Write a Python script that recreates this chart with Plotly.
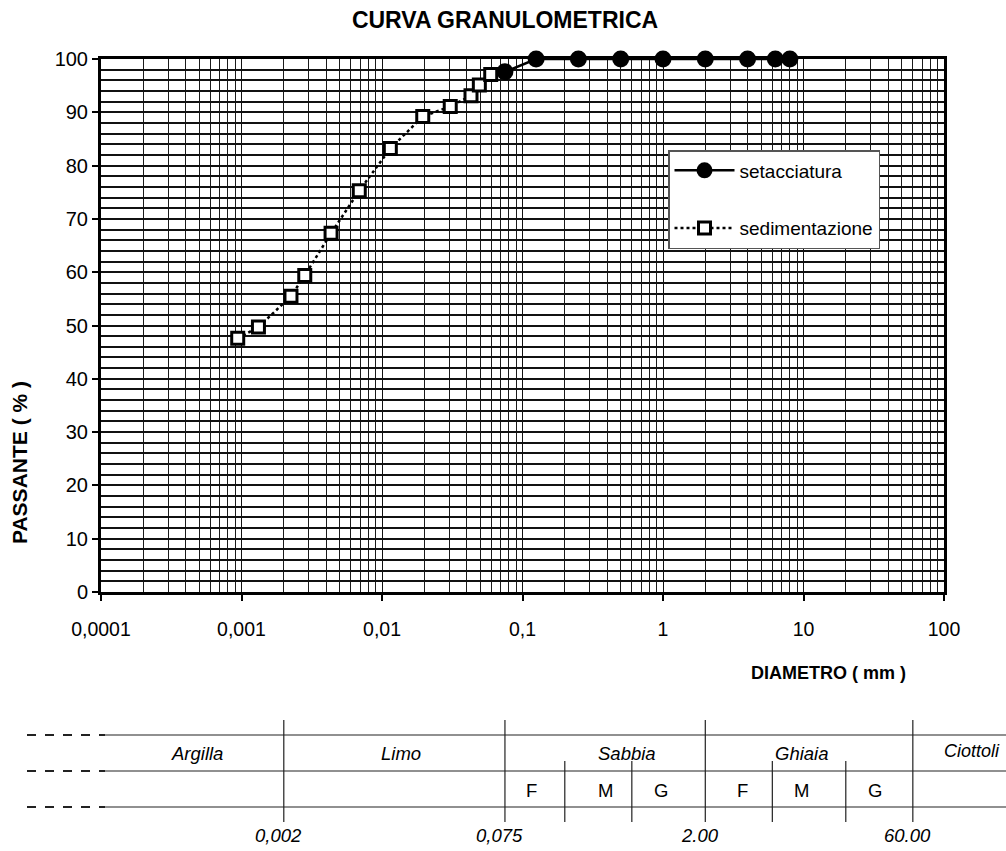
import plotly.graph_objects as go
import math

# ---- data ----
sieve_d = [0.075, 0.125, 0.25, 0.5, 1, 2, 4, 6.3, 8]
sieve_p = [97.6, 100, 100, 100, 100, 100, 100, 100, 100]

sed_d = [0.00094, 0.00132, 0.00225, 0.00282, 0.00434, 0.00689, 0.01146, 0.0195, 0.0306, 0.0430, 0.0493, 0.0594]
sed_p = [47.6, 49.7, 55.5, 59.4, 67.3, 75.3, 83.2, 89.2, 91.1, 93.1, 95.1, 97.1]

x_tickvals = [0.0001, 0.001, 0.01, 0.1, 1, 10, 100]
x_ticktext = ["0,0001", "0,001", "0,01", "0,1", "1", "10", "100"]

main_bounds = [0.002, 0.075, 2, 60]
main_bound_labels = ["0,002", "0,075", "2.00", "60.00"]
sub_bounds = [0.2, 0.6, 6, 20]
classes = ["Argilla", "Limo", "Sabbia", "Ghiaia", "Ciottoli"]
sub_classes = ["F", "M", "G", "F", "M", "G"]

FONT = "Liberation Sans, Arial, sans-serif"

W, H = 1006, 851
L, T = 101, 59
R = W - 944
B = H - 592
PW, PH = W - L - R, H - T - B
XMIN, XMAX = -4, 2


def px2x(px):
    return (px - L) / PW


def py2y(py):
    return (H - B - py) / PH


def d2x(d):
    return (math.log10(d) - XMIN) / (XMAX - XMIN)


fig = go.Figure()
fig.add_trace(go.Scatter(
    x=sieve_d, y=sieve_p, name="setacciatura", mode="lines+markers",
    line=dict(color="black", width=2.5),
    marker=dict(symbol="circle", size=17, color="black"),
    legendgroup="a", cliponaxis=False,
))
fig.add_trace(go.Scatter(
    x=sed_d, y=sed_p, name="sedimentazione", mode="lines+markers",
    line=dict(color="black", width=2.5, dash="dot"),
    marker=dict(symbol="square", size=12, color="white", line=dict(color="black", width=3)),
    legendgroup="b", cliponaxis=False,
))

minor_x = [m * 10 ** e for e in range(-4, 2) for m in range(2, 10)]

fig.update_xaxes(
    type="log", range=[XMIN, XMAX],
    tickmode="array", tickvals=x_tickvals, ticktext=x_ticktext,
    ticks="outside", ticklen=6, tickcolor="black", tickwidth=1.5,
    showgrid=True, gridcolor="#111", gridwidth=1.2,
    minor=dict(tickmode="array", tickvals=minor_x, showgrid=True, gridcolor="#1a1a1a", gridwidth=1.1, ticks=""),
    showline=True, linewidth=3, linecolor="black", mirror=True,
    tickfont=dict(family=FONT, size=19.5, color="black"),
    ticklabelstandoff=12, zeroline=False,
)
fig.update_yaxes(
    range=[0, 100], dtick=10,
    ticks="outside", ticklen=6, tickcolor="black", tickwidth=1.5,
    showgrid=True, gridcolor="#111", gridwidth=1.5,
    minor=dict(dtick=2, showgrid=True, gridcolor="#111", gridwidth=1.5, ticks=""),
    showline=True, linewidth=3, linecolor="black", mirror=True,
    tickfont=dict(family=FONT, size=20, color="black"),
    zeroline=False,
)

shapes = []
ann = []
line_style = dict(color="#222", width=1.2)
for py in (735, 771, 807):
    shapes.append(dict(type="line", xref="paper", yref="paper",
                       x0=px2x(105), x1=px2x(1006), y0=py2y(py), y1=py2y(py), line=line_style))
    shapes.append(dict(type="line", xref="paper", yref="paper",
                       x0=px2x(27), x1=px2x(105), y0=py2y(py), y1=py2y(py),
                       line=dict(color="#222", width=2, dash="dash")))
for d in main_bounds:
    shapes.append(dict(type="line", xref="paper", yref="paper",
                       x0=d2x(d), x1=d2x(d), y0=py2y(720), y1=py2y(822), line=line_style))
for d in sub_bounds:
    shapes.append(dict(type="line", xref="paper", yref="paper",
                       x0=d2x(d), x1=d2x(d), y0=py2y(761), y1=py2y(822), line=line_style))

class_px = [197, 401, 627, 801]
for name, px in zip(classes[:4], class_px):
    ann.append(dict(text=f"<i>{name}</i>", x=px2x(px), y=py2y(753), xref="paper", yref="paper",
                    showarrow=False, xanchor="center", yanchor="middle",
                    font=dict(family=FONT, size=18.5, color="black")))
ann.append(dict(text=f"<i>{classes[4]}</i>", x=px2x(1002), y=py2y(751), xref="paper", yref="paper",
                showarrow=False, xanchor="right", yanchor="middle",
                font=dict(family=FONT, size=18, color="black")))
sub_px = [531, 605, 661, 742, 801, 875]
for name, px in zip(sub_classes, sub_px):
    ann.append(dict(text=name, x=px2x(px), y=py2y(790), xref="paper", yref="paper",
                    showarrow=False, xanchor="center", yanchor="middle",
                    font=dict(family=FONT, size=18.5, color="black")))
for d, lab in zip(main_bounds, main_bound_labels):
    ann.append(dict(text=f"<i>{lab}</i>", x=d2x(d) - 0.006, y=py2y(835), xref="paper", yref="paper",
                    showarrow=False, xanchor="center", yanchor="middle",
                    font=dict(family=FONT, size=18.5, color="black")))

ann.append(dict(text="<b>PASSANTE ( % )</b>", x=px2x(19), y=py2y(463), xref="paper", yref="paper",
                showarrow=False, textangle=-90, xanchor="center", yanchor="middle",
                font=dict(family=FONT, size=21, color="black")))
ann.append(dict(text="<b>DIAMETRO ( mm )</b>", x=px2x(828), y=py2y(673), xref="paper", yref="paper",
                showarrow=False, xanchor="center", yanchor="middle",
                font=dict(family=FONT, size=18, color="black")))

fig.update_layout(
    width=W, height=H,
    margin=dict(l=L, r=R, t=T, b=B),
    paper_bgcolor="white", plot_bgcolor="white",
    title=dict(text="<b>CURVA GRANULOMETRICA</b>", x=505 / W, xanchor="center",
               y=1 - 20 / H, yanchor="middle",
               font=dict(family=FONT, size=23, color="black")),
    legend=dict(x=px2x(668), y=py2y(150), xanchor="left", yanchor="top",
                bgcolor="white", bordercolor="#555", borderwidth=1.5,
                font=dict(family=FONT, size=19, color="black"),
                tracegroupgap=30, itemwidth=60),
    shapes=shapes, annotations=ann,
    showlegend=True,
)

fig.write_html("out.html", config={"displayModeBar": False},
               post_script="document.body.style.margin='0px';document.body.style.overflow='hidden';")
